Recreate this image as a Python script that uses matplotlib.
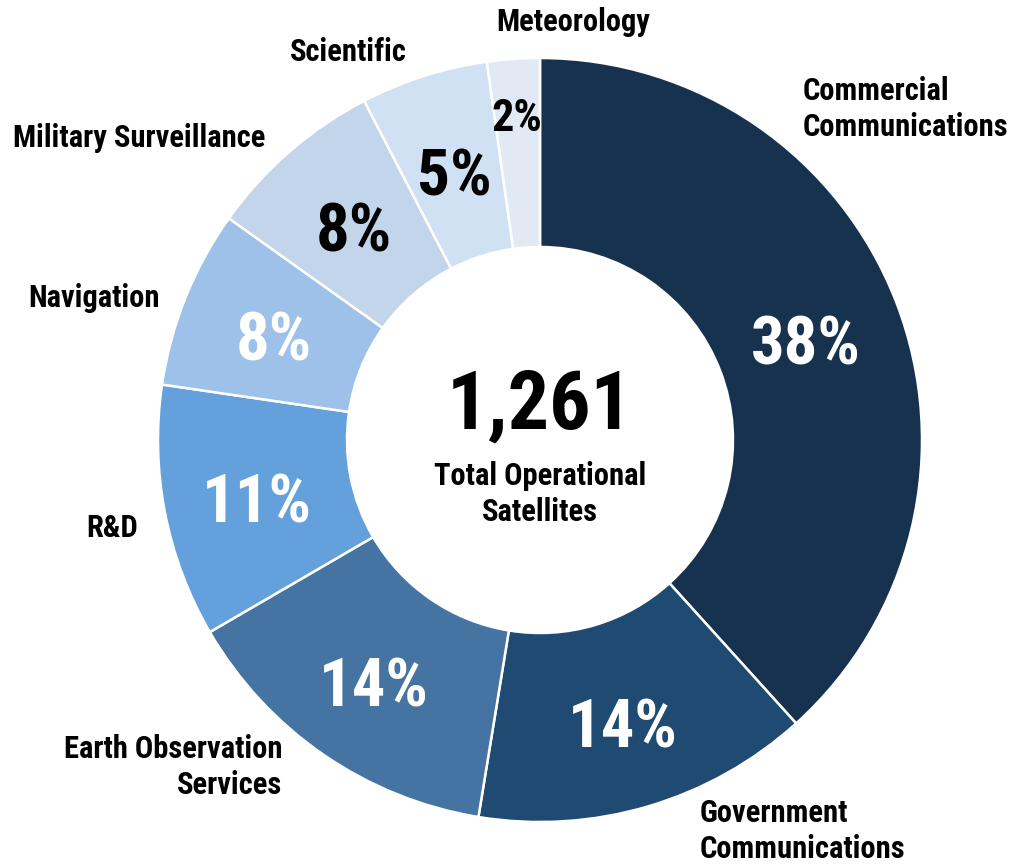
import matplotlib
matplotlib.use("Agg")
import matplotlib.pyplot as plt
from matplotlib import font_manager
import numpy as np

# satellite counts by mission (total 1,261)
categories = ["Commercial\nCommunications", "Government\nCommunications",
              "Earth Observation\nServices", "R&D", "Navigation",
              "Military Surveillance", "Scientific", "Meteorology"]
counts = [483, 180, 177, 135, 95, 95, 68, 28]
colors = ["#17324f", "#1f4a72", "#4674a2", "#64a0dc", "#9dc1e8",
          "#c3d5ea", "#d0e1f3", "#e1eaf4"]
pct_colors = ["white", "white", "white", "white", "white",
              "black", "black", "black"]
center_value = "1,261"
center_text = "Total Operational\nSatellites"

# narrow bold face if one is installed
names = {f.name for f in font_manager.fontManager.ttflist}
wanted = ["Liberation Sans Narrow", "Roboto Condensed", "Open Sans Condensed",
          "Arial Narrow", "Liberation Sans", "DejaVu Sans"]
plt.rcParams["font.family"] = [n for n in wanted if n in names]
plt.rcParams["font.weight"] = "bold"

W, H, DPI = 1015, 867, 100
CX, CY, R = 540, 440, 382  # pie centre / radius in pixels
fig = plt.figure(figsize=(W / DPI, H / DPI), dpi=DPI)
ax = fig.add_axes([0, 0, 1, 1])

inner = 193 / R
total = sum(counts)
pct_labels = [f"{round(c / total * 100)}%" for c in counts]
wedges, _ = ax.pie(counts, colors=colors, startangle=90, counterclock=False,
                   radius=1, wedgeprops=dict(width=1 - inner, edgecolor="white",
                                             linewidth=1.8))
ax.set_xlim(-CX / R, (W - CX) / R)
ax.set_ylim(-(H - CY) / R, CY / R)
ax.set_aspect("equal")
ax.axis("off")

# percentage labels along each wedge's mid angle
pct_r = [0.745, 0.765, 0.765, 0.755, 0.75, 0.745, 0.74, 0.85]
pct_size = [48, 48, 48, 48, 48, 48, 47, 32]
pct_dy = [9, 9, 8, 10, 9, 8, 7, 3]  # px nudge down
for w, lab, col, rr, fs, dy in zip(wedges, pct_labels, pct_colors, pct_r,
                                   pct_size, pct_dy):
    mid = np.deg2rad((w.theta1 + w.theta2) / 2)
    ax.text(rr * np.cos(mid), rr * np.sin(mid) - dy / R, lab, color=col,
            fontsize=fs, fontweight="bold", ha="center", va="center")

# category labels (pixel anchors converted to data units)
label_pos = [(803, 109, "left"), (700, 831, "left"), (282, 767, "right"),
             (138, 528, "right"), (160, 298, "right"), (265, 138, "right"),
             (407, 52, "right"), (573, 22, "center")]
for name, (px, py, ha) in zip(categories, label_pos):
    ax.text((px - CX) / R, (CY - py) / R, name, fontsize=22, fontweight="bold",
            ha=ha, va="center", multialignment=ha, linespacing=1.25)

ax.text(0, (CY - 406) / R, center_value, fontsize=59, fontweight="bold",
        ha="center", va="center")
ax.text(0, (CY - 494) / R, center_text, fontsize=22, fontweight="bold",
        ha="center", va="center", linespacing=1.27)

fig.savefig("out.png", dpi=DPI)
